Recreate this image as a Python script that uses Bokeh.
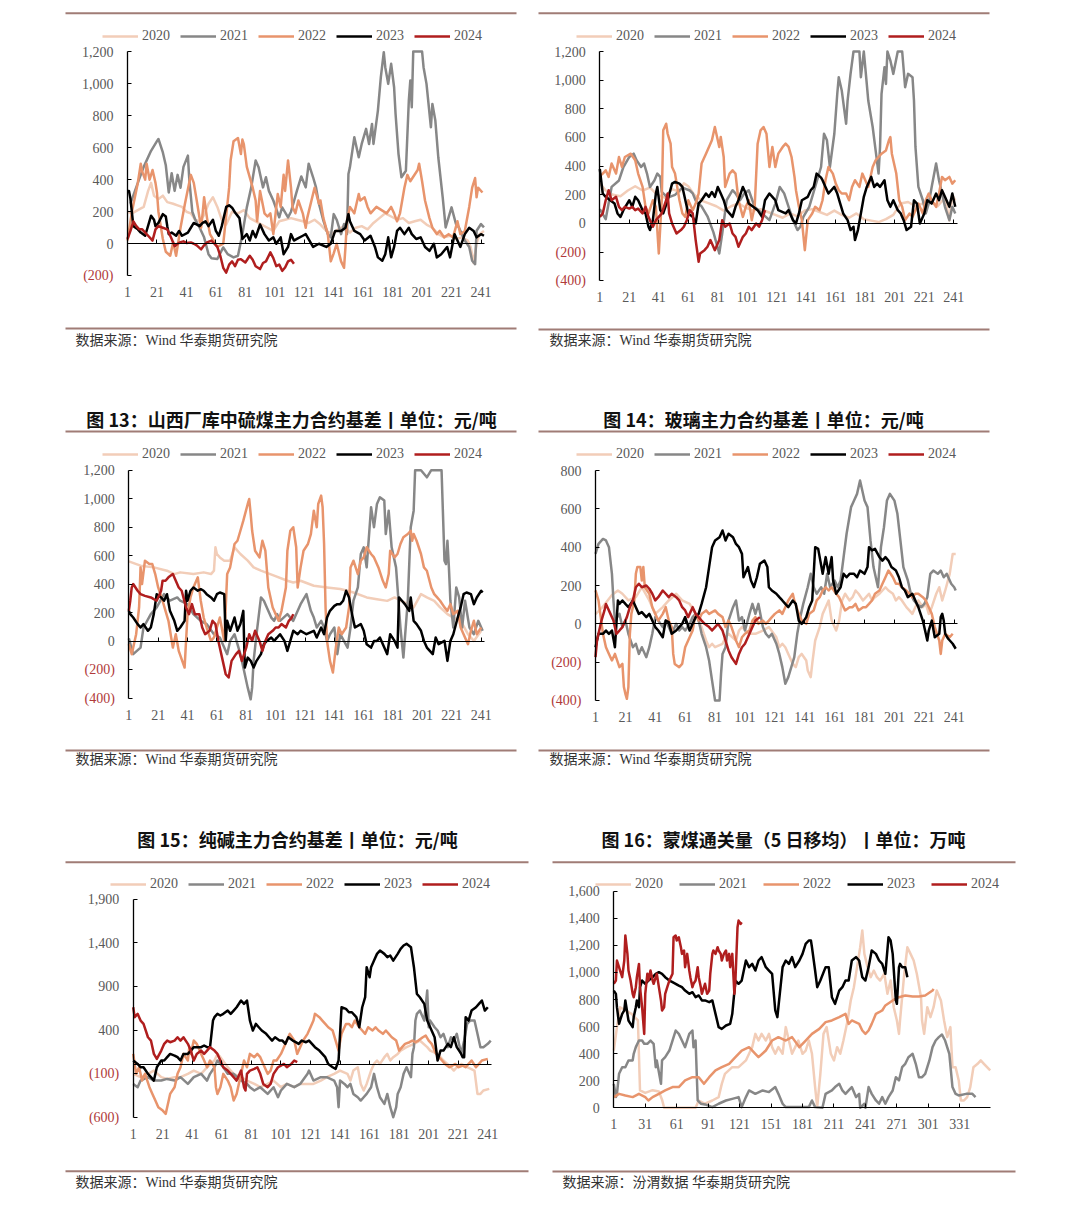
from bokeh.plotting import figure
from bokeh.models import Range1d, LinearAxis, FixedTicker, CustomJSTickFormatter, Legend, LegendItem, Label
from bokeh.layouts import column, row
from bokeh.embed import file_html
from bokeh.resources import INLINE

# ---------------- data (category index, value) ----------------
YEARS = ["2020", "2021", "2022", "2023", "2024"]

# Panel 1 (top-left)
P1_2020 = [(1,200),(4,190),(8,210),(12,230),(15,330),(17,380),(19,300),(22,280),(25,300),(28,260),(32,250),(35,240),(38,230),(41,200),(44,190),(47,150),(50,140),(53,180),(56,250),(59,290),(62,230),(65,150),(68,120),(72,200),(76,190),(80,210),(84,160),(88,140),(92,120),(96,100),(100,80),(104,140),(108,150),(112,160),(116,150),(120,140),(124,130),(128,150),(132,120),(136,80),(140,60),(144,90),(148,110),(152,70),(156,100),(160,110),(164,90),(168,130),(172,160),(176,190),(180,170),(184,150),(188,160),(192,130),(196,140),(200,150),(204,120),(208,100),(212,60),(216,40),(220,50),(224,30),(228,40),(232,20),(234,-20),(236,-120),(238,0),(240,60),(243,80)]
P1_2021 = [(3,250),(8,380),(12,480),(17,580),(21,640),(22,654),(25,570),(27,490),(29,320),(31,440),(33,330),(35,430),(37,350),(39,480),(42,550),(43,394),(45,200),(47,150),(50,100),(53,40),(56,-65),(58,-90),(62,-95),(66,-23),(69,-65),(73,-85),(76,-75),(79,60),(82,227),(85,352),(88,520),(90,477),(93,352),(95,415),(97,330),(100,270),(104,165),(106,227),(110,165),(112,200),(116,330),(119,420),(122,352),(124,500),(127,415),(129,352),(131,248),(134,144),(137,60),(139,40),(141,185),(143,150),(146,60),(148,123),(150,60),(151,435),(152,477),(155,665),(156,623),(158,540),(160,623),(163,717),(165,623),(167,748),(168,623),(171,831),(173,1040),(175,1196),(176,1102),(178,998),(180,1123),(182,977),(183,810),(185,560),(187,415),(190,456),(192,894),(193,1019),(194,852),(195,1200),(201,1200),(202,1102),(204,998),(207,727),(208,873),(210,769),(212,540),(215,290),(217,102),(219,165),(221,227),(224,123),(226,102),(228,60),(230,20),(233,-20),(235,-106),(237,-127),(238,81),(241,123),(243,102)]
P1_2022 = [(1,20),(4,200),(8,380),(10,500),(11,450),(13,400),(14,500),(16,400),(18,460),(20,380),(21,320),(22,200),(25,30),(27,-50),(30,-75),(32,10),(34,-75),(37,100),(40,250),(44,430),(46,380),(48,270),(51,100),(52,190),(53,290),(55,160),(57,60),(62,-20),(66,0),(70,350),(71,520),(73,640),(76,660),(78,560),(79,650),(80,620),(82,480),(86,350),(88,270),(89,140),(91,330),(94,190),(96,170),(98,190),(100,60),(103,310),(104,270),(105,230),(107,430),(108,330),(110,520),(112,350),(113,230),(115,190),(117,270),(120,190),(122,100),(123,160),(128,350),(131,250),(132,270),(134,160),(137,60),(139,-110),(141,-60),(143,0),(146,-110),(148,-150),(149,-20),(150,140),(152,230),(155,190),(158,310),(159,270),(162,290),(164,230),(166,190),(170,230),(177,190),(180,230),(182,190),(184,140),(186,190),(189,350),(191,430),(193,390),(198,460),(199,500),(201,390),(203,270),(206,160),(208,100),(211,60),(213,80),(216,40),(219,60),(222,40),(225,140),(227,60),(230,80),(233,230),(235,350),(237,410),(238,290),(239,350),(242,320)]
P1_2023 = [(1,330),(2,330),(3,280),(5,110),(8,90),(10,70),(13,50),(17,175),(19,150),(20,110),(22,130),(25,185),(27,170),(28,110),(29,60),(31,70),(34,50),(36,80),(38,50),(42,70),(44,100),(46,130),(50,110),(52,130),(54,140),(56,110),(59,150),(61,80),(63,50),(65,110),(68,230),(70,240),(72,225),(74,195),(77,160),(79,30),(82,60),(84,20),(86,80),(88,40),(91,120),(94,60),(97,20),(100,40),(102,0),(105,40),(107,-65),(110,-20),(112,60),(114,20),(116,30),(120,50),(122,60),(127,-20),(131,0),(136,-20),(139,0),(142,80),(146,80),(149,100),(151,185),(152,140),(155,80),(159,60),(162,20),(166,50),(169,-20),(171,-85),(174,-106),(176,-65),(178,40),(180,-85),(182,-20),(184,80),(186,100),(189,60),(192,100),(194,60),(197,30),(200,40),(203,-20),(206,-44),(209,0),(211,-85),(214,-65),(218,-20),(220,-85),(223,60),(225,20),(227,-20),(230,60),(233,100),(236,80),(238,40),(241,60),(243,50)]
P1_2024 = [(1,30),(3,80),(5,140),(7,110),(9,90),(11,90),(13,70),(15,50),(17,30),(18,20),(20,90),(22,110),(25,100),(28,90),(30,50),(31,30),(33,-15),(35,0),(37,10),(39,15),(41,5),(44,8),(46,0),(48,-10),(51,-35),(53,-10),(55,8),(58,20),(60,0),(62,-20),(64,-75),(66,-150),(68,-180),(70,-130),(72,-110),(74,-140),(76,-100),(78,-96),(81,-117),(84,-75),(86,-100),(88,-140),(91,-158),(93,-120),(95,-110),(98,-54),(100,-90),(102,-140),(104,-130),(106,-169),(108,-148),(110,-110),(112,-100),(114,-125)]

# Panel 2 (top-right)
P2_2020 = [(1,280),(5,230),(10,200),(15,190),(20,230),(25,260),(30,230),(35,250),(40,200),(45,180),(50,240),(55,220),(58,280),(61,260),(65,200),(70,160),(75,140),(80,120),(85,90),(90,120),(95,140),(100,110),(105,90),(110,100),(115,80),(120,60),(125,40),(130,70),(135,50),(140,90),(145,100),(150,80),(155,60),(160,90),(165,60),(170,40),(175,70),(180,30),(185,20),(190,10),(195,30),(200,60),(205,140),(210,150),(215,120),(220,140),(225,160),(230,120),(235,180),(238,20),(240,200),(242,160)]
P2_2021 = [(1,100),(5,30),(9,255),(14,300),(17,394),(21,464),(24,487),(26,440),(29,394),(31,418),(33,348),(35,255),(38,300),(40,348),(42,325),(43,220),(47,180),(52,200),(57,250),(62,230),(64,210),(66,160),(70,120),(74,50),(78,-60),(82,-209),(84,-70),(87,162),(91,232),(93,210),(96,162),(99,210),(102,232),(106,116),(111,70),(116,23),(120,139),(123,255),(126,210),(129,116),(132,23),(135,-46),(137,-23),(139,46),(143,116),(147,255),(151,394),(153,626),(155,580),(157,394),(160,626),(162,905),(163,1021),(165,930),(168,696),(169,858),(171,1044),(173,1200),(177,1200),(178,1021),(180,1200),(182,974),(183,858),(186,673),(188,510),(190,348),(191,534),(192,905),(194,1090),(195,974),(196,1200),(198,1137),(200,1044),(203,1200),(206,1200),(208,951),(210,1044),(213,1021),(214,858),(215,534),(217,255),(220,162),(222,70),(224,139),(226,255),(229,418),(231,300),(233,210),(235,116),(238,23),(240,116),(242,70)]
P2_2022 = [(1,330),(3,348),(5,371),(7,325),(9,418),(12,348),(14,464),(16,394),(18,464),(22,487),(25,441),(27,348),(30,255),(32,116),(34,70),(37,162),(39,116),(41,-209),(43,162),(44,650),(46,696),(47,626),(49,557),(50,394),(52,348),(55,162),(57,70),(59,46),(61,162),(64,93),(66,139),(68,209),(70,418),(73,487),(75,534),(77,580),(79,673),(82,534),(83,603),(85,464),(86,255),(89,348),(91,371),(93,348),(95,162),(98,46),(100,116),(102,162),(104,23),(106,116),(108,557),(110,650),(112,673),(114,626),(116,394),(118,534),(120,394),(122,487),(125,534),(127,557),(129,534),(131,464),(133,325),(134,232),(136,116),(138,23),(140,-186),(142,23),(145,70),(147,116),(150,93),(152,162),(154,302),(156,394),(159,348),(161,278),(163,232),(165,209),(168,209),(170,162),(172,255),(174,302),(177,255),(179,348),(181,302),(183,255),(186,394),(188,441),(190,464),(192,487),(195,510),(197,580),(198,603),(199,487),(202,348),(204,162),(206,116),(208,23),(211,70),(213,46),(215,93),(217,139),(220,70),(222,162),(224,209),(226,162),(229,116),(231,209),(233,325),(235,302),(238,325),(240,278),(242,302)]
P2_2023 = [(1,380),(3,209),(5,186),(8,162),(11,139),(13,70),(15,46),(17,93),(21,162),(23,116),(25,186),(27,162),(30,93),(32,70),(34,-23),(35,-46),(37,23),(38,116),(39,209),(40,255),(42,93),(44,70),(47,162),(50,278),(52,290),(55,278),(57,255),(59,162),(61,70),(64,46),(66,0),(68,139),(70,162),(73,209),(75,186),(77,220),(79,186),(81,255),(83,209),(85,162),(87,93),(91,46),(93,116),(95,162),(98,255),(100,209),(102,139),(105,116),(108,93),(111,46),(113,162),(116,209),(118,186),(120,162),(122,93),(127,70),(129,93),(132,23),(134,0),(136,70),(138,162),(142,186),(144,232),(146,255),(148,348),(151,320),(152,302),(154,255),(156,209),(160,255),(162,209),(164,139),(166,70),(169,23),(171,-46),(173,-23),(174,-116),(176,-46),(178,70),(180,186),(182,255),(185,325),(187,255),(189,278),(191,255),(194,302),(196,162),(198,116),(200,162),(203,93),(205,70),(207,23),(209,-46),(212,-23),(214,162),(216,139),(218,0),(221,70),(223,162),(226,139),(229,209),(231,162),(233,232),(235,186),(238,116),(240,209),(242,116)]
P2_2024 = [(1,46),(3,70),(5,162),(7,232),(9,162),(12,186),(14,116),(16,93),(18,116),(21,104),(23,116),(25,93),(27,104),(30,70),(32,116),(34,46),(37,-23),(39,23),(41,46),(43,70),(46,162),(47,209),(48,70),(50,0),(53,-70),(56,-46),(58,-23),(60,23),(62,93),(64,70),(66,-116),(68,-267),(69,-209),(72,-186),(74,-162),(76,-116),(79,-186),(82,-116),(84,23),(86,-23),(89,0),(91,-70),(93,-93),(95,-162),(98,-93),(100,-70),(102,-23),(104,-46),(107,0),(109,-23),(111,23),(113,93)]

# Panel 3: 山西厂库中硫煤
P3_2020 = [(1,560),(9,530),(18,518),(27,495),(32,471),(36,483),(45,471),(52,483),(57,471),(59,495),(60,659),(61,612),(63,588),(66,565),(70,565),(73,658),(77,612),(82,565),(86,518),(91,495),(100,460),(109,424),(113,412),(118,424),(127,389),(136,377),(145,366),(150,354),(154,342),(163,307),(170,295),(177,283),(182,307),(191,260),(195,237),(200,330),(204,307),(209,283),(213,237),(218,190),(222,166),(227,142),(232,49),(236,2),(241,73)]
P3_2021 = [(1,20),(4,-91),(9,-45),(11,96),(16,190),(20,237),(25,330),(29,284),(34,307),(36,284),(41,260),(45,190),(50,143),(54,120),(59,49),(63,26),(68,-91),(70,2),(73,49),(77,-91),(79,-185),(82,-326),(84,-408),(85,-326),(86,-138),(88,49),(91,307),(93,284),(95,237),(98,166),(100,143),(102,190),(104,143),(109,190),(113,143),(118,260),(122,330),(125,213),(127,166),(129,96),(132,143),(134,96),(136,2),(138,49),(141,96),(143,-91),(145,49),(150,-45),(152,96),(154,284),(157,377),(159,612),(161,659),(163,518),(166,940),(168,800),(170,963),(172,1010),(175,987),(176,752),(178,916),(180,659),(183,518),(186,96),(188,-115),(191,284),(193,800),(195,916),(196,1200),(200,1200),(204,1150),(207,1200),(211,1200),(214,1200),(216,565),(217,541),(218,705),(219,518),(220,284),(222,96),(224,377),(226,307),(228,96),(230,284),(233,96),(236,49),(239,143),(242,73)]
P3_2022 = [(1,-21),(3,-91),(6,49),(8,237),(9,518),(10,401),(12,565),(15,541),(17,541),(19,471),(21,377),(24,284),(26,213),(28,143),(31,-45),(33,49),(35,-68),(39,-185),(41,190),(43,307),(45,377),(48,448),(50,284),(52,166),(54,96),(57,2),(59,26),(61,96),(63,166),(66,2),(68,471),(70,518),(73,682),(75,705),(77,775),(79,846),(82,963),(83,998),(84,893),(85,775),(87,635),(90,588),(92,705),(94,635),(96,377),(99,237),(101,190),(103,143),(105,213),(108,377),(109,635),(111,775),(113,800),(115,659),(116,377),(118,518),(120,635),(123,682),(125,752),(127,916),(129,800),(130,963),(132,1022),(133,940),(134,682),(135,237),(136,2),(138,-138),(140,-220),(142,-45),(144,96),(146,49),(149,96),(151,237),(152,518),(154,565),(157,471),(159,565),(161,588),(163,659),(166,612),(168,588),(171,518),(174,424),(176,377),(178,471),(179,635),(182,588),(184,612),(186,682),(188,729),(191,752),(193,775),(194,705),(195,752),(197,705),(200,612),(202,518),(204,494),(207,377),(209,330),(211,307),(213,284),(216,237),(218,213),(220,260),(222,190),(225,213),(227,96),(229,49),(232,-21),(234,73),(236,143),(238,49),(241,96)]
P3_2023 = [(1,213),(2,190),(4,166),(7,120),(9,96),(11,120),(14,73),(16,96),(18,190),(20,330),(23,307),(25,284),(27,330),(29,213),(32,143),(34,73),(36,96),(39,143),(40,354),(41,284),(43,354),(45,377),(48,354),(50,365),(52,354),(54,330),(57,307),(59,284),(61,330),(63,342),(66,330),(67,2),(68,143),(70,73),(73,166),(75,73),(77,120),(79,213),(80,-185),(82,-115),(84,-138),(86,-185),(88,-138),(91,-91),(93,-21),(95,2),(98,26),(100,2),(104,49),(107,2),(109,-68),(111,2),(113,73),(116,49),(118,73),(122,49),(127,73),(129,26),(132,96),(134,49),(136,166),(138,213),(141,248),(143,260),(145,260),(147,284),(149,354),(151,307),(153,190),(155,96),(159,120),(161,73),(163,-21),(166,-45),(168,2),(170,2),(172,26),(175,-45),(177,-91),(179,49),(182,2),(184,-45),(185,307),(187,284),(189,260),(192,213),(193,307),(195,143),(197,120),(200,73),(202,2),(204,-45),(208,-91),(210,26),(212,-21),(216,2),(218,-138),(220,2),(222,49),(225,166),(227,237),(229,330),(231,342),(234,330),(236,260),(238,307),(241,354),(242,342)]
P3_2024 = [(1,213),(2,284),(3,377),(4,401),(7,354),(9,330),(12,318),(16,307),(18,295),(20,284),(23,354),(24,424),(26,424),(28,448),(31,471),(33,424),(35,377),(37,354),(40,237),(42,190),(44,260),(46,190),(49,190),(51,96),(53,49),(56,73),(58,143),(60,120),(62,2),(65,-138),(67,-232),(69,-255),(71,-138),(74,-91),(76,-68),(78,-138),(81,-45),(83,49),(85,2),(87,73),(90,2),(92,-68),(94,2),(96,49),(99,73),(101,96),(103,96),(105,120),(108,96),(110,143),(112,166),(113,190)]

# Panel 4: 玻璃
P4_2020 = [(1,50),(6,90),(12,150),(16,174),(19,157),(23,122),(28,139),(32,191),(37,122),(41,52),(46,87),(50,122),(55,157),(59,122),(64,104),(68,52),(72,-17),(75,-87),(77,-122),(79,-104),(81,-122),(86,-104),(88,-70),(90,-52),(95,-87),(97,-35),(99,-17),(104,-52),(108,-52),(113,-35),(117,-17),(122,-70),(124,-122),(126,-104),(128,-122),(130,-157),(133,-209),(135,-226),(137,-174),(139,-157),(142,-191),(143,-243),(145,-278),(146,-209),(148,-87),(151,-17),(153,52),(155,87),(157,122),(159,17),(162,-35),(164,17),(166,122),(168,157),(171,122),(173,139),(175,174),(177,157),(180,122),(182,139),(184,157),(186,122),(188,139),(191,157),(193,174),(195,191),(197,174),(200,157),(202,122),(204,139),(206,122),(209,87),(211,70),(213,52),(215,87),(217,122),(220,87),(222,104),(224,52),(226,87),(229,157),(231,191),(233,122),(235,174),(238,261),(240,365),(242,365)]
P4_2021 = [(1,365),(3,417),(6,443),(8,435),(10,400),(12,261),(13,122),(14,17),(17,52),(19,-17),(21,17),(23,-52),(26,-122),(28,-104),(30,-157),(32,-122),(35,-174),(37,-122),(39,-52),(41,35),(43,17),(46,-17),(48,17),(50,-17),(52,-52),(55,0),(57,-35),(59,-17),(61,-35),(64,0),(66,35),(68,52),(70,17),(72,-52),(75,-122),(77,-191),(79,-296),(81,-400),(84,-400),(85,-261),(86,-157),(88,-122),(90,17),(93,87),(95,122),(97,17),(99,35),(101,-35),(104,52),(106,104),(108,52),(110,104),(113,-17),(115,-52),(117,-70),(119,-52),(122,-104),(124,-157),(126,-226),(128,-313),(130,-278),(132,-226),(134,-174),(136,-52),(138,35),(140,104),(143,191),(145,261),(147,191),(149,157),(152,191),(154,157),(156,261),(158,191),(161,226),(163,191),(165,226),(167,348),(169,470),(172,609),(174,643),(176,678),(178,748),(181,643),(183,609),(185,435),(187,296),(190,191),(192,400),(194,504),(196,643),(198,678),(201,643),(203,574),(205,435),(207,296),(210,226),(212,157),(214,122),(216,104),(219,87),(221,104),(223,139),(225,261),(227,278),(230,261),(232,278),(234,243),(236,261),(239,209),(241,191),(242,174)]
P4_2022 = [(1,174),(3,122),(6,-52),(8,-122),(10,-157),(12,-191),(14,-157),(17,-226),(19,-209),(20,-330),(21,-365),(22,-391),(23,-330),(24,-52),(25,52),(27,122),(28,261),(29,296),(31,296),(32,226),(33,296),(34,191),(37,157),(39,87),(41,52),(43,17),(46,52),(48,87),(50,17),(52,-17),(53,-157),(54,-209),(57,-226),(59,-209),(61,-122),(63,-87),(66,-35),(68,52),(70,17),(72,52),(75,70),(77,52),(79,61),(81,70),(83,52),(86,35),(88,-17),(90,17),(92,-17),(95,-87),(97,-122),(99,-70),(101,-52),(104,-35),(106,17),(108,35),(110,0),(113,17),(115,0),(117,17),(119,35),(121,52),(124,70),(126,52),(128,87),(130,122),(133,157),(134,122),(137,52),(139,17),(142,0),(144,52),(147,70),(149,122),(151,139),(153,174),(155,191),(157,174),(159,191),(162,157),(164,139),(166,104),(168,70),(171,87),(173,87),(175,104),(177,70),(180,87),(182,87),(184,104),(186,122),(188,157),(191,174),(193,209),(195,243),(197,278),(200,243),(202,209),(204,209),(206,191),(209,174),(211,157),(213,139),(215,157),(217,157),(220,139),(222,122),(224,87),(226,52),(228,-17),(231,-87),(232,-157),(233,-87),(235,-52),(238,-70),(240,-52)]
P4_2023 = [(1,-122),(3,-52),(6,-52),(8,-35),(10,-52),(12,-35),(14,-122),(16,122),(17,104),(19,122),(21,104),(23,87),(26,122),(28,87),(30,52),(32,61),(35,35),(37,52),(39,17),(41,-17),(43,-35),(46,-70),(48,17),(50,9),(52,-52),(55,-35),(57,-17),(59,0),(61,35),(64,-35),(66,0),(68,35),(70,52),(72,104),(75,191),(77,296),(79,400),(81,435),(84,452),(86,487),(88,435),(90,470),(93,452),(95,417),(97,400),(99,365),(100,243),(103,296),(105,226),(107,191),(109,243),(111,313),(114,330),(116,296),(117,191),(119,174),(122,157),(124,139),(126,122),(128,104),(130,87),(133,122),(135,104),(137,17),(139,0),(142,35),(144,87),(146,122),(148,400),(150,391),(153,261),(155,348),(157,261),(159,348),(160,226),(162,157),(165,191),(167,261),(169,243),(171,261),(174,261),(176,243),(178,278),(181,261),(183,296),(184,400),(186,383),(188,391),(191,348),(193,330),(195,348),(197,330),(199,296),(202,278),(204,243),(206,191),(208,174),(210,139),(213,157),(215,122),(217,87),(220,17),(222,-52),(223,-87),(224,-35),(226,17),(228,-70),(231,-52),(232,35),(233,52),(234,17),(235,-52),(237,-78),(240,-104),(242,-130)]
P4_2024 = [(1,-174),(2,-87),(3,-52),(5,17),(7,70),(8,104),(9,87),(11,52),(13,17),(15,-52),(17,-35),(19,-17),(22,35),(24,87),(26,122),(28,191),(30,209),(32,191),(35,200),(37,183),(39,157),(41,122),(43,139),(46,174),(48,157),(50,139),(52,157),(55,139),(57,122),(59,87),(61,70),(63,35),(66,87),(68,52),(70,35),(72,17),(74,0),(77,-17),(79,-35),(81,-17),(83,0),(86,-35),(88,-87),(90,-139),(92,-174),(95,-209),(97,-157),(99,-122),(101,-104),(104,-52),(106,-17),(108,17),(111,35)]

# Panel 5: 纯碱
P5_2020 = [(1,-103),(6,-141),(11,-103),(15,-65),(20,-141),(24,-161),(29,-141),(33,-141),(38,-103),(42,-65),(47,-103),(51,-27),(56,50),(58,126),(60,88),(65,-27),(69,-103),(74,-141),(78,-180),(83,-218),(87,-256),(92,-218),(96,-180),(101,-256),(105,-218),(110,-256),(114,-218),(119,-218),(123,-218),(128,-180),(132,-141),(137,-103),(141,-65),(146,-103),(148,-180),(150,-65),(153,-27),(155,-218),(157,-294),(159,-218),(162,-65),(164,11),(166,50),(168,11),(171,88),(173,126),(175,50),(177,88),(180,126),(182,164),(186,203),(191,241),(195,279),(200,203),(202,164),(207,126),(211,50),(216,-27),(218,-65),(220,-27),(223,11),(227,-27),(232,-65),(234,-333),(236,-333),(238,-294),(242,-275)]
P5_2021 = [(1,-218),(4,-256),(6,-180),(11,-141),(15,-180),(20,-180),(24,-161),(29,-180),(33,-141),(38,-218),(42,-141),(47,-103),(51,-180),(53,-103),(56,-27),(58,50),(60,11),(62,-27),(65,-103),(69,-103),(74,-180),(78,-218),(80,-256),(83,-294),(87,-256),(92,-333),(96,-256),(99,-371),(101,-294),(105,-218),(110,-256),(114,-218),(119,-103),(120,-65),(123,-180),(128,-141),(132,-141),(137,-180),(139,-256),(140,-485),(141,-180),(144,-218),(146,-256),(148,-218),(150,-333),(153,-371),(155,-409),(157,-371),(159,-333),(162,-256),(164,-103),(166,-256),(168,-371),(171,-447),(173,-333),(175,-485),(177,-600),(179,-485),(180,-333),(182,-256),(184,-103),(186,-27),(189,-141),(190,126),(191,203),(192,508),(193,585),(195,623),(198,508),(200,852),(201,432),(202,508),(205,432),(207,394),(209,317),(211,356),(214,203),(216,317),(218,279),(220,356),(223,126),(225,279),(227,470),(229,508),(232,508),(234,356),(236,203),(238,203),(241,241),(243,279)]
P5_2022 = [(1,126),(3,-103),(5,-27),(7,-180),(9,-103),(12,-256),(14,-333),(16,-409),(18,-485),(21,-524),(23,-562),(24,-485),(26,-333),(29,-256),(31,-103),(33,-27),(35,126),(38,50),(39,203),(40,126),(42,279),(44,241),(47,126),(49,50),(51,-27),(53,50),(56,-27),(57,-256),(58,-333),(60,-256),(62,-103),(65,-180),(67,-256),(69,-409),(71,-333),(74,-103),(76,50),(78,-27),(80,126),(83,88),(85,126),(87,88),(89,11),(92,-103),(94,-65),(96,50),(98,50),(101,126),(103,203),(105,279),(107,356),(110,279),(112,126),(114,203),(116,279),(119,356),(121,432),(123,508),(124,585),(127,547),(129,508),(131,470),(133,432),(136,394),(138,279),(140,164),(142,356),(145,470),(147,470),(149,432),(151,508),(154,432),(156,394),(158,356),(160,432),(163,394),(165,432),(167,394),(170,356),(172,394),(174,356),(176,317),(179,279),(181,164),(183,203),(185,241),(188,260),(190,279),(192,260),(194,279),(197,317),(199,336),(201,279),(203,241),(206,126),(208,88),(210,50),(212,11),(215,-27),(217,-8),(219,11),(221,-27),(224,-8),(226,-27),(228,11),(230,50),(233,-27),(235,11),(237,50),(241,69)]
P5_2023 = [(1,50),(4,11),(6,-27),(8,-27),(11,-103),(13,-141),(15,-180),(16,-103),(17,-27),(20,50),(22,50),(24,88),(26,126),(29,107),(31,88),(33,50),(35,126),(38,126),(40,164),(42,203),(44,203),(47,203),(49,222),(51,203),(53,203),(55,508),(56,547),(58,585),(60,566),(62,585),(65,623),(67,585),(69,623),(71,661),(74,738),(76,700),(78,738),(80,508),(82,394),(84,470),(86,432),(88,394),(91,356),(93,317),(95,279),(97,317),(100,279),(102,279),(104,241),(106,317),(109,279),(111,260),(113,241),(115,279),(118,260),(120,279),(122,241),(124,203),(127,164),(129,126),(131,88),(133,11),(136,-27),(138,-46),(140,50),(142,661),(145,642),(147,604),(149,604),(152,547),(154,432),(156,661),(158,776),(159,1120),(161,1005),(162,1120),(164,1196),(166,1273),(168,1311),(171,1273),(173,1235),(175,1254),(177,1196),(180,1273),(182,1330),(184,1369),(186,1388),(189,1349),(191,1120),(193,814),(195,776),(198,700),(200,508),(202,432),(205,317),(207,50),(209,164),(211,164),(214,241),(216,203),(218,317),(220,203),(223,126),(224,88),(225,88),(226,547),(228,508),(230,623),(233,661),(235,700),(237,738),(239,623),(241,661)]
P5_2024 = [(1,661),(2,547),(4,585),(6,508),(8,470),(11,317),(13,279),(15,126),(17,69),(20,164),(22,241),(24,279),(26,260),(29,279),(31,317),(33,279),(35,317),(38,241),(40,164),(42,50),(44,126),(47,164),(49,126),(51,164),(53,203),(56,164),(58,126),(60,50),(62,-27),(65,-65),(67,-103),(69,-141),(71,-180),(74,-65),(76,-256),(77,-294),(78,-103),(80,-65),(83,-46),(85,-27),(87,-103),(89,-218),(92,-256),(94,-218),(96,-103),(99,-27),(101,-8),(103,11),(105,-27),(108,11),(110,50),(112,31)]

# Panel 6: 蒙煤通关量（5日移均）
P6_2020 = [(1,423),(4,596),(7,743),(12,719),(18,694),(24,645),(26,128),(31,110),(38,130),(44,120),(47,60),(49,0),(60,0),(70,0),(79,0),(82,54),(88,30),(95,54),(101,79),(104,177),(107,251),(114,300),(120,300),(127,350),(130,399),(133,448),(136,546),(139,497),(142,546),(146,497),(149,546),(152,448),(155,399),(158,448),(162,399),(165,596),(168,497),(171,399),(174,448),(177,497),(181,399),(184,423),(187,497),(190,399),(193,153),(195,5),(198,251),(201,546),(204,596),(208,399),(211,350),(214,448),(217,399),(220,497),(224,645),(227,793),(230,891),(233,1039),(236,1186),(238,1310),(240,1137),(243,1039),(246,965),(249,1014),(252,965),(255,940),(259,990),(262,842),(265,940),(268,743),(271,645),(273,546),(274,645),(278,990),(281,1186),(284,1137),(287,1088),(290,990),(294,817),(295,645),(297,546),(300,743),(303,670),(306,743),(309,866),(313,793),(316,645),(319,522),(322,596),(324,300),(327,300),(330,202),(332,54),(335,54),(338,79),(341,153),(344,300),(348,325),(351,350),(354,325),(357,300),(360,276)]
P6_2021 = [(1,177),(3,79),(4,103),(6,251),(9,300),(12,300),(15,350),(19,350),(20,399),(22,448),(25,497),(28,497),(30,473),(33,473),(36,497),(39,473),(41,300),(42,350),(46,177),(47,350),(50,374),(54,423),(57,497),(60,571),(63,546),(66,497),(69,448),(73,546),(76,571),(77,448),(79,497),(81,54),(84,30),(88,25),(95,5),(101,30),(108,54),(114,66),(120,79),(123,5),(127,79),(130,128),(136,103),(143,128),(149,116),(155,153),(158,103),(162,30),(165,5),(178,5),(187,5),(190,54),(193,5),(200,0),(203,103),(206,116),(209,128),(212,153),(216,177),(219,128),(222,103),(225,128),(228,153),(232,79),(235,103),(236,0),(240,30),(241,0),(244,153),(247,103),(251,54),(254,30),(257,79),(260,30),(263,79),(267,128),(270,226),(273,202),(276,300),(279,325),(282,374),(286,399),(289,325),(292,226),(295,226),(298,251),(302,350),(305,448),(308,497),(311,522),(314,541),(317,497),(321,399),(324,153),(327,103),(330,91),(337,103),(343,103),(346,79)]
P6_2022 = [(1,79),(6,103),(12,91),(19,79),(25,103),(31,79),(34,54),(38,79),(44,103),(50,128),(57,153),(63,153),(69,202),(76,226),(82,226),(87,177),(92,226),(98,276),(104,300),(111,325),(117,374),(123,423),(130,448),(136,399),(139,374),(146,423),(152,497),(158,522),(165,497),(171,522),(178,448),(184,497),(190,546),(197,583),(203,633),(209,645),(216,670),(222,694),(225,620),(228,645),(235,620),(238,571),(241,546),(244,571),(247,620),(251,694),(254,706),(257,719),(260,756),(267,793),(273,817),(279,830),(286,822),(292,822),(298,830),(305,866),(306,879)]
P6_2023 = [(1,866),(3,842),(4,743),(6,620),(7,645),(9,694),(11,719),(12,793),(14,694),(15,645),(17,620),(19,596),(20,670),(22,743),(23,793),(25,743),(26,891),(28,940),(31,916),(34,940),(38,965),(41,990),(44,1002),(47,990),(50,965),(54,940),(57,928),(60,916),(63,903),(66,891),(69,866),(73,842),(76,854),(79,817),(82,830),(85,793),(88,793),(92,780),(95,793),(98,694),(101,596),(104,583),(108,608),(112,620),(114,694),(117,940),(120,916),(123,940),(127,1088),(130,1039),(133,1063),(136,1014),(139,1088),(142,1113),(146,1039),(149,1014),(152,990),(155,719),(157,670),(158,743),(162,1039),(165,1088),(168,1063),(171,1113),(174,1039),(178,1088),(181,1137),(184,1211),(187,1236),(189,1236),(190,1186),(193,1014),(195,891),(198,940),(203,1039),(206,1039),(209,817),(212,768),(216,866),(219,891),(222,940),(225,940),(228,1088),(232,1113),(235,1088),(238,965),(241,940),(244,1039),(247,1162),(251,1137),(254,1088),(257,1063),(260,990),(263,1260),(265,1236),(267,1137),(270,793),(271,768),(273,1039),(274,1063),(276,1039),(279,1039),(281,965)]
P6_2024 = [(1,916),(3,940),(4,1088),(6,1039),(7,1014),(9,965),(11,1088),(12,1273),(14,1137),(15,1014),(17,940),(19,842),(20,817),(22,891),(23,965),(25,1063),(26,891),(28,743),(30,546),(31,842),(33,990),(34,940),(36,1014),(38,940),(39,916),(41,965),(42,990),(44,891),(46,793),(47,719),(49,743),(50,842),(52,891),(54,940),(57,990),(58,1260),(60,1273),(61,1236),(63,1260),(65,1186),(66,1137),(68,1162),(69,1039),(71,1137),(73,1014),(74,965),(76,891),(77,916),(79,940),(81,1039),(82,965),(84,891),(85,842),(87,891),(88,916),(90,842),(92,866),(93,990),(95,1137),(96,1162),(98,1137),(100,1186),(101,1162),(103,1137),(104,1088),(106,1137),(108,1162),(109,1088),(111,1137),(112,1039),(114,1137),(116,842),(117,940),(119,1334),(120,1383),(122,1359),(123,1371)]

# tick labels
X_TICKS_A = [1, 21, 41, 61, 81, 101, 121, 141, 161, 181, 201, 221, 241]
X_TICKS_B = [1, 31, 61, 91, 121, 151, 181, 211, 241, 271, 301, 331]
Y_TICKS_1 = [-200, 0, 200, 400, 600, 800, 1000, 1200]
Y_TICKS_2 = [-400, -200, 0, 200, 400, 600, 800, 1000, 1200]
Y_TICKS_4 = [-400, -200, 0, 200, 400, 600, 800]
Y_TICKS_5 = [-600, -100, 400, 900, 1400, 1900]
Y_TICKS_6 = [0, 200, 400, 600, 800, 1000, 1200, 1400, 1600]

TITLES = {
    3: "图 13：山西厂库中硫煤主力合约基差丨单位：元/吨",
    4: "图 14：玻璃主力合约基差丨单位：元/吨",
    5: "图 15：纯碱主力合约基差丨单位：元/吨",
    6: "图 16：蒙煤通关量（5 日移均）丨单位：万吨",
}
SRC_WIND = "数据来源：Wind 华泰期货研究院"
SRC_FW = "数据来源：汾渭数据 华泰期货研究院"

# ---------------- styles ----------------
COLORS = ["#F2CDB8", "#878787", "#E8946C", "#000000", "#B01E1E"]
SEP_COLOR = "#A07C76"
TICK_COLOR = "#595959"
NEG_COLOR = "#B03A3A"
SERIF = "Liberation Serif"
CJK = "Noto Sans CJK SC"
MIXED = "'Liberation Serif', 'Noto Sans CJK SC'"

FMT = CustomJSTickFormatter(code="""
const s = Math.abs(tick).toFixed(0).replace(/\\B(?=(\\d{3})+(?!\\d))/g, ',');
return tick < 0 ? '(' + s + ')' : s;
""")

CW = 536  # column width in page pixels
SPECS = [
    dict(fig=(0, 0, CW, 390), xcal=(1, 127.0, 241, 480.5), ycal=(1200, 51.0, -200, 275.3),
         xmax=243.5, ytk=Y_TICKS_1, xtk=X_TICKS_A, xstand=43, leg=(102, 36, 10.5),
         series=[P1_2020, P1_2021, P1_2022, P1_2023, P1_2024], title=None,
         seps=[(65, 516, 12.7), (65, 516, 328)], src=(SRC_WIND, 75, 340)),
    dict(fig=(CW, 0, CW, 390), xcal=(1, 599.3, 241, 953.3), ycal=(1200, 51.0, -400, 280.3),
         xmax=243.3, ytk=Y_TICKS_2, xtk=X_TICKS_A, xstand=69, leg=(576, 36, 10.5),
         series=[P2_2020, P2_2021, P2_2022, P2_2023, P2_2024], title=None,
         seps=[(538, 989, 12.7), (538, 989, 329)], src=(SRC_WIND, 549, 340)),
    dict(fig=(0, 390, CW, 418), xcal=(1, 128.3, 241, 480.7), ycal=(1200, 469.7, -400, 697.7),
         xmax=243.5, ytk=Y_TICKS_2, xtk=X_TICKS_A, xstand=69, leg=(102, 454, 10.5),
         series=[P3_2020, P3_2021, P3_2022, P3_2023, P3_2024], title=(TITLES[3], 291, 418),
         seps=[(65, 516, 431), (65, 516, 750)], src=(SRC_WIND, 75, 759)),
    dict(fig=(CW, 390, CW, 418), xcal=(1, 595.0, 241, 953.7), ycal=(800, 470.0, -400, 700.0),
         xmax=243.5, ytk=Y_TICKS_4, xtk=X_TICKS_A, xstand=88, leg=(576, 454, 10.5),
         series=[P4_2020, P4_2021, P4_2022, P4_2023, P4_2024], title=(TITLES[4], 763, 418),
         seps=[(538, 989, 431), (538, 989, 750)], src=(SRC_WIND, 549, 759)),
    dict(fig=(0, 808, CW, 409), xcal=(1, 132.7, 241, 487.3), ycal=(1900, 898.7, -600, 1116.7),
         xmax=243.5, ytk=Y_TICKS_5, xtk=X_TICKS_A, xstand=64, leg=(110, 884, 10.5),
         series=[P5_2020, P5_2021, P5_2022, P5_2023, P5_2024], title=(TITLES[5], 297, 838),
         seps=[(65, 528, 861.7), (65, 528, 1170.7)], src=(SRC_WIND, 75, 1181.5)),
    dict(fig=(CW, 808, CW, 409), xcal=(1, 613.3, 331, 959.3), ycal=(1600, 890.7, 0, 1107.3),
         xmax=360.3, ytk=Y_TICKS_6, xtk=X_TICKS_B, xstand=11, leg=(595, 884, 16.5),
         series=[P6_2020, P6_2021, P6_2022, P6_2023, P6_2024], title=(TITLES[6], 783, 838),
         seps=[(552, 1015, 861.7), (552, 1015, 1171)], src=(SRC_FW, 562, 1181.5)),
]


def build(spec):
    fx, fy, W, H = spec["fig"]
    xa, pxa, xb, pxb = spec["xcal"]
    ya, pya, yb, pyb = spec["ycal"]
    sx = (pxb - pxa) / (xb - xa)
    sy = (pyb - pya) / (yb - ya)

    def dx(px):
        return xa + (px - pxa) / sx

    def dy(py):
        return ya + (py - pya) / sy

    p = figure(width=W, height=H, x_range=Range1d(dx(fx), dx(fx + W)),
               y_range=Range1d(dy(fy + H), dy(fy)), output_backend="svg",
               toolbar_location=None, x_axis_location=None, y_axis_location=None,
               title=None, min_border=0)
    p.min_border_left = p.min_border_right = p.min_border_top = p.min_border_bottom = 0
    p.outline_line_color = None
    p.background_fill_color = "white"
    p.border_fill_color = "white"
    p.xgrid.visible = False
    p.ygrid.visible = False

    ymin, ymax = min(spec["ytk"]), max(spec["ytk"])

    # separators
    for a, b, yy in spec["seps"]:
        p.segment(x0=[dx(a)], y0=[dy(yy)], x1=[dx(b)], y1=[dy(yy)],
                  line_color=SEP_COLOR, line_width=2)

    # series
    rends = []
    for pts, col in zip(spec["series"], COLORS):
        xs = [q[0] for q in pts]
        ys = [q[1] for q in pts]
        r = p.line(xs, ys, line_color=col, line_width=2.5, line_join="round")
        rends.append(r)

    # y axes: positive labels grey, negative labels red
    pos = [t for t in spec["ytk"] if t >= 0]
    neg = [t for t in spec["ytk"] if t < 0]
    for ticks, col, show_line in ((pos, TICK_COLOR, True), (neg, NEG_COLOR, False)):
        if not ticks:
            continue
        ax = LinearAxis(fixed_location=1, bounds=(ymin, ymax),
                        ticker=FixedTicker(ticks=ticks), formatter=FMT)
        ax.major_label_text_font = SERIF
        ax.major_label_text_font_size = "14px"
        ax.major_label_text_color = col
        ax.major_tick_in = 4
        ax.major_tick_out = 0
        ax.minor_tick_line_color = None
        ax.major_tick_line_color = "black"
        ax.axis_line_color = "black" if show_line else None
        ax.axis_line_width = 1.3
        ax.major_label_standoff = 14
        p.add_layout(ax, "left")

    # x axis = zero line
    xax = LinearAxis(fixed_location=0, bounds=(1, spec["xmax"]),
                     ticker=FixedTicker(ticks=spec["xtk"]))
    xax.major_label_text_font = SERIF
    xax.major_label_text_font_size = "14px"
    xax.major_label_text_color = TICK_COLOR
    xax.major_tick_in = 4
    xax.major_tick_out = 0
    xax.minor_tick_line_color = None
    xax.major_tick_line_color = "black"
    xax.axis_line_color = "black"
    xax.axis_line_width = 1
    xax.major_label_standoff = spec["xstand"]
    p.add_layout(xax, "below")

    # legend
    lpx, lpy, spacing = spec["leg"]
    leg = Legend(items=[LegendItem(label=y, renderers=[r]) for y, r in zip(YEARS, rends)],
                 orientation="horizontal", location=(lpx - fx, (fy + H) - (lpy + 10)),
                 padding=0, margin=0, spacing=int(round(spacing)), glyph_width=36,
                 glyph_height=20, label_standoff=4, label_height=20,
                 label_text_font=SERIF, label_text_font_size="14px",
                 label_text_color=TICK_COLOR, border_line_color=None,
                 background_fill_alpha=0)
    p.add_layout(leg)

    # title
    if spec["title"]:
        t, tx, ty = spec["title"]
        p.add_layout(Label(x=dx(tx), y=dy(ty), text=t, text_font=CJK,
                           text_font_size="18px", text_font_style="bold",
                           text_color="#111111", text_align="center",
                           text_baseline="middle"))
    # source
    s, sxp, syp = spec["src"]
    p.add_layout(Label(x=dx(sxp), y=dy(syp), text=s, text_font=MIXED,
                       text_font_size="14px", text_color="#333333",
                       text_align="left", text_baseline="middle"))
    return p


figs = [build(s) for s in SPECS]
layout = column(row(figs[0], figs[1]), row(figs[2], figs[3]), row(figs[4], figs[5]))
open("out.html", "w").write(file_html(layout, INLINE))
